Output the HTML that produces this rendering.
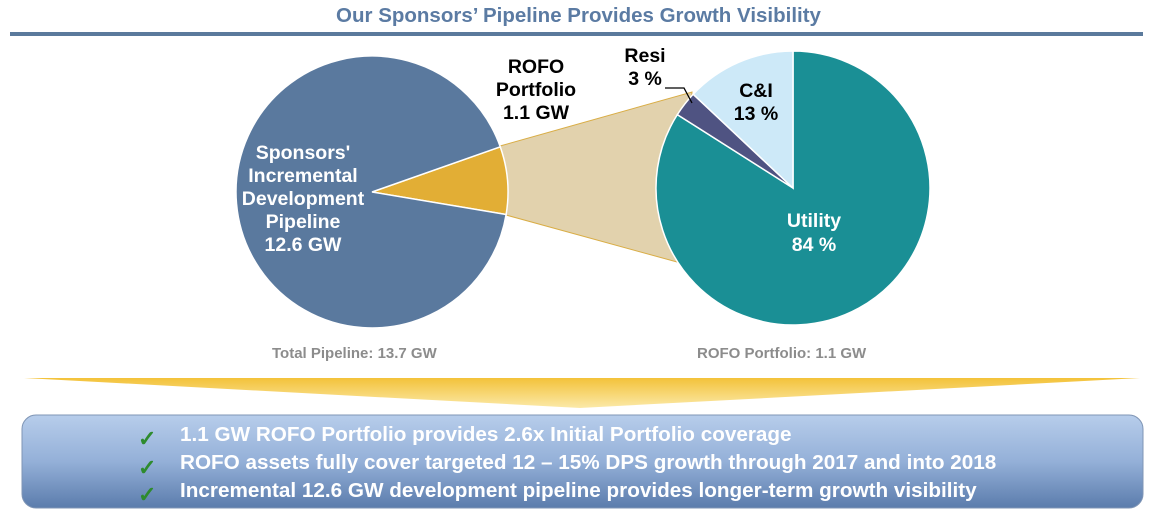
<!DOCTYPE html>
<html><head><meta charset="utf-8"><style>
html,body{margin:0;padding:0;background:#fff;width:1157px;height:517px;overflow:hidden;font-family:"Liberation Sans",sans-serif}
#root{position:relative;width:1157px;height:517px}
.abs{position:absolute}
.title{left:0;width:1157px;top:4px;text-align:center;font-family:"Liberation Sans Narrow","Liberation Sans",sans-serif;font-weight:bold;font-size:20.5px;color:#5b7ba3}
.cap{font-family:"Liberation Sans Narrow","Liberation Sans",sans-serif;font-weight:bold;font-size:15px;color:#8c8c8c;top:345px}
.bl{font-family:"Liberation Sans Narrow","Liberation Sans",sans-serif;font-weight:bold;font-size:20.7px;color:#fff;left:180px;white-space:nowrap}
.ck{left:138px;color:#2e8b2e;font-size:22px;font-weight:bold}
</style></head><body>
<div id="root">
<div class="abs title">Our Sponsors’ Pipeline Provides Growth Visibility</div>
<div class="abs" style="left:10px;top:32px;width:1133px;height:4px;background:#5b7a9c"></div>
<svg class="abs" style="left:0;top:0" width="1157" height="517" id="chart">
<polygon points="500,146 692,92 677,262 506,215" fill="#e2d2ad" stroke="#d9ad45" stroke-width="1"/>
<g id="leftpie"></g>
<g id="rightpie"></g>
<polyline points="665,88 684,88 692,103" fill="none" stroke="#000" stroke-width="1.3"/>
<g font-family="Liberation Sans, sans-serif" font-weight="bold" font-size="19.5" text-anchor="middle">
<g fill="#fff">
<text x="303" y="159">Sponsors'</text><text x="303" y="182">Incremental</text><text x="303" y="205">Development</text><text x="303" y="228">Pipeline</text><text x="303" y="251">12.6 GW</text></g>
<g fill="#000"><text x="536" y="73">ROFO</text><text x="536" y="96">Portfolio</text><text x="536" y="119">1.1 GW</text></g>
<g fill="#000"><text x="645" y="62">Resi</text><text x="645" y="85">3 %</text></g>
<g fill="#000"><text x="756" y="97">C&amp;I</text><text x="756" y="120">13 %</text></g>
<g fill="#fff"><text x="814" y="227">Utility</text><text x="814" y="251">84 %</text></g>
</g>
<defs>
<linearGradient id="gold" x1="0" y1="0" x2="0" y2="1"><stop offset="0" stop-color="#f3c23a"/><stop offset="1" stop-color="#fbe9a8"/></linearGradient>
<linearGradient id="blue" x1="0" y1="0" x2="0" y2="1"><stop offset="0" stop-color="#b7cdeb"/><stop offset="0.5" stop-color="#94b0d8"/><stop offset="1" stop-color="#5b7cac"/></linearGradient>
</defs>
<polygon points="24,378 1140,378 580,408" fill="url(#gold)"/>
<rect x="22" y="415" width="1121" height="93" rx="14" fill="url(#blue)" stroke="#7f95b5"/>
</svg>
<div class="abs cap" style="left:272px">Total Pipeline: 13.7 GW</div>
<div class="abs cap" style="left:697px">ROFO Portfolio: 1.1 GW</div>
<div class="abs ck" style="top:426px">✓</div>
<div class="abs ck" style="top:455px">✓</div>
<div class="abs ck" style="top:482px">✓</div>
<div class="abs bl" style="top:423px">1.1 GW ROFO Portfolio provides 2.6x Initial Portfolio coverage</div>
<div class="abs bl" style="top:451px">ROFO assets fully cover targeted 12 – 15% DPS growth through 2017 and into 2018</div>
<div class="abs bl" style="top:479px">Incremental 12.6 GW development pipeline provides longer-term growth visibility</div>
</div>
<script>
const leftCategories = ["ROFO Portfolio", "Sponsors' Incremental Development Pipeline"];
const leftValues = [1.1, 12.6];
const rightCategories = ["Utility", "Resi", "C&I"];
const rightValues = [84, 3, 13];
const leftColors = ["#e2ae35", "#5a799e"];
const rightColors = ["#1a8f95", "#4f5382", "#cde9f8"];
const NS = "http://www.w3.org/2000/svg";
function drawPie(g, cx, cy, r, vals, colors, startDeg, names) {
  const total = vals.reduce((a, b) => a + b, 0);
  let a = startDeg * Math.PI / 180;
  vals.forEach((v, i) => {
    const sweep = v / total * 2 * Math.PI;
    const a2 = a + sweep;
    const x1 = cx + r * Math.cos(a), y1 = cy + r * Math.sin(a);
    const x2 = cx + r * Math.cos(a2), y2 = cy + r * Math.sin(a2);
    const p = document.createElementNS(NS, "path");
    p.setAttribute("d", `M${cx},${cy} L${x1},${y1} A${r},${r} 0 ${sweep > Math.PI ? 1 : 0} 1 ${x2},${y2} Z`);
    p.setAttribute("fill", colors[i]);
    p.setAttribute("stroke", "#fff");
    p.setAttribute("stroke-width", "1.5");
    
    
    g.appendChild(p);
    a = a2;
  });
}
drawPie(document.getElementById("leftpie"), 372, 192, 136, leftValues, leftColors, -19.4, leftCategories);
drawPie(document.getElementById("rightpie"), 793, 188, 137, rightValues, rightColors, -90, rightCategories);
</script>
</body></html>
